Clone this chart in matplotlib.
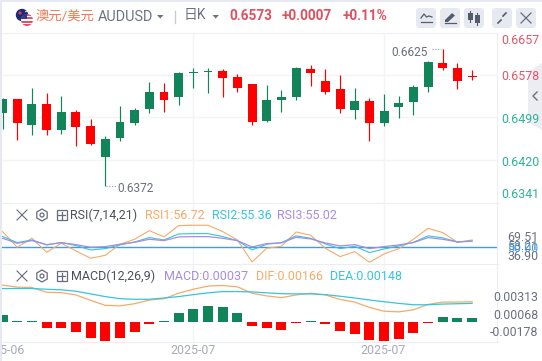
import matplotlib
matplotlib.use("Agg")
import numpy as np
import matplotlib.pyplot as plt
from matplotlib.patches import Circle, FancyBboxPatch, Polygon, Rectangle, RegularPolygon

W, H = 542, 361
FONT = ['Roboto', 'Noto Sans CJK SC', 'DejaVu Sans']
plt.rcParams['font.family'] = FONT

GREEN = "#12845a"
RED = "#ff0000"
GRID = "#f3f4f7"
ORANGE = "#f7aa68"
CYAN = "#35c5dc"
PURPLE = "#a78ce4"
BLUE = "#3d9de8"
GRAY = "#6b7080"
LABEL_RED = "#e2566a"
LABEL_GREEN = "#2db39a"

# daily candles, red = close above open
opens = [.65334, .64887, .6524, .64757, .65092, .64813, .64497, .6459, .64906, .65129,
         .65464, .65315, .65817, .65836, .65854, .65724, .65538, .64906, .65315, .65365,
         .6591, .65817, .65464, .65148, .65296, .64887, .6511, .65259, .65557, .66022,
         .6591, .65668, .65743]
highs = [.65352, .65334, .65538, .65445, .6539, .65129, .64962, .64645, .65203, .65166,
         .6565, .65631, .65836, .6591, .6591, .65892, .65799, .65613, .65594, .65501,
         .65929, .65966, .65892, .6578, .65538, .65352, .65427, .6539, .65594, .6604,
         .66254, .66003, .65873]
lows = [.64776, .64571, .64664, .64664, .64683, .64459, .64478, .63715, .64552, .6485,
        .65073, .65092, .65222, .65538, .65445, .65371, .65464, .6485, .64906, .65092,
        .65315, .65575, .65427, .65073, .64962, .64552, .64831, .6498, .65036, .65464,
        .65873, .6552, .65687]
closes = [.65079, .65334, .6485, .6524, .64757, .65092, .64831, .64255, .64608, .64887,
          .65153, .65464, .65371, .65817, .65836, .65854, .65743, .65613, .64924, .65321,
          .65371, .65892, .65668, .6552, .65129, .65296, .64887, .65185, .65278, .65557,
          .66003, .6591, .65761]

rsi1 = [80.6, 50.0, 67.6, 40.3, 57.8, 42.9, 28.6, 34.4, 55.9, 65.6, 82.5, 70.2, 92.3, 92.9, 92.9, 80.6, 64.3,
        21.4, 48.0, 52.0, 79.9, 73.4, 48.0, 31.8, 41.6, 20.8, 37.0, 47.4, 65.6, 87.0, 78.6, 59.8, 64.3]
rsi2 = [71.0, 59.1, 64.3, 54.6, 59.1, 53.3, 44.8, 47.4, 54.6, 60.4, 68.9, 64.3, 76.0, 76.6, 76.6, 71.0, 63.0,
        44.8, 55.9, 59.1, 72.3, 67.6, 56.5, 47.4, 52.0, 39.6, 46.8, 52.6, 59.8, 72.3, 68.4, 60.4, 62.4]
rsi3 = [67.6, 57.8, 63.0, 55.2, 59.1, 55.2, 50.0, 51.3, 55.9, 59.8, 65.6, 63.0, 70.2, 70.8, 70.8, 67.6, 63.0,
        50.7, 57.2, 58.5, 69.5, 66.3, 58.5, 52.6, 55.2, 47.4, 51.3, 54.6, 59.1, 68.9, 65.6, 60.4, 61.7]

dif = [.00313, .00296, .00293, .00252, .00249, .00229, .00183, .0014, .00136, .00154, .00186, .00197, .00244,
       .00278, .00305, .0031, .00299, .00244, .00221, .00206, .00229, .00244, .00229, .00191, .00168, .00122,
       .0009, .00084, .00102, .00148, .00168, .00168, .00171]
dea = [.00284, .00284, .00284, .00278, .00273, .00261, .00238, .00215, .00197, .00192, .00192, .00203, .00215,
       .00232, .00247, .00258, .00258, .00255, .00247, .00240, .00238, .00238, .00232, .00218, .00203, .00186,
       .00171, .00157, .00145, .00145, .00151, .00154, .00157]
macd = [.00061, .00002, .00006, -.00052, -.00052, -.00087, -.00139, -.00165, -.00139, -.00087, -.00017, .00002,
        .00078, .00113, .00131, .00122, .00078, -.00035, -.00052, -.0007, -.00009, .00006, -.00017, -.00078,
        -.00104, -.00157, -.00165, -.00148, -.00096, -.00009, .00044, .00035, .00035]

x = np.arange(len(closes))
XLIM = (-0.041, 33.73)
UP_DOWN = [RED if c >= o else GREEN for o, c in zip(opens, closes)]

fig = plt.figure(figsize=(W / 100, H / 100), dpi=100, facecolor="white")


def pane(top, bottom):
    ax = fig.add_axes([2 / W, 1 - bottom / H, 495.5 / W, (bottom - top) / H])
    ax.set_xlim(*XLIM)
    ax.set_xticks([13, 26])
    ax.tick_params(length=0, labelbottom=False, labelleft=False)
    ax.grid(axis="x", color=GRID, lw=1)
    ax.set_axisbelow(True)
    for s in ax.spines.values():
        s.set_visible(False)
    ax.spines["right"].set_visible(True)
    ax.spines["right"].set_color("#eceef3")
    ax.spines["bottom"].set_visible(True)
    ax.spines["bottom"].set_color("#eceef3")
    return ax


# candles
ax1 = pane(33, 203)
ax1.set_ylim(0.63399, 0.6656)
ax1.set_yticks([0.6578, 0.6499, 0.6420])
ax1.grid(axis="y", color=GRID, lw=1)
ax1.vlines(x, lows, highs, colors=UP_DOWN, lw=0.85)
bot = [min(o, c) for o, c in zip(opens, closes)]
hgt = [max(abs(c - o), 0.00012) for o, c in zip(opens, closes)]
ax1.bar(x, hgt, bottom=bot, width=0.61, color=UP_DOWN)

# rsi
ax2 = pane(204, 264)
ax2.set_ylim(17.4, 134.4)
ax2.set_yticks([])
ax2.axhline(50, color=BLUE, lw=1.0)
ax2.plot(x, rsi1, color=ORANGE, lw=0.8)
ax2.plot(x, rsi2, color=CYAN, lw=0.8)
ax2.plot(x, rsi3, color=PURPLE, lw=0.9)

# macd
ax3 = pane(264.5, 342)
ax3.set_ylim(-0.00174, 0.0049)
ax3.set_yticks([])
ax3.bar(x, macd, width=0.68, color=[GREEN if m > 0 else RED for m in macd])
ax3.plot(x, dif, color=ORANGE, lw=0.9)
ax3.plot(x, dea, color=CYAN, lw=0.9)

# everything around the panes, in pixel coordinates
ov = fig.add_axes([0, 0, 1, 1], zorder=5)
ov.set_xlim(0, W)
ov.set_ylim(H, 0)
ov.axis("off")
ov.patch.set_alpha(0)


def label(px, py, s, color=GRAY, size=8.9, ha="left", **kw):
    ov.text(px, py, s, color=color, fontsize=size, ha=ha, va="center", **kw)


ov.add_patch(Rectangle((0, 0), W, 2.3, color="#e6e9f2", lw=0))
ov.plot([2, 497], [33, 33], color="#f1f2f6", lw=1)

# flags
au = Circle((22, 15), 6.2, color="#1c2a78", lw=0)
ov.add_patch(au)
ov.add_patch(Circle((20, 13), 1.6, color="#d8404f", lw=0))
ov.add_patch(Circle((26, 11.5), 0.8, color="white", lw=0))
us_clip = Circle((27, 20), 6, transform=ov.transData)
for i, yy in enumerate(np.arange(14, 27, 1.7)):
    r = ov.add_patch(Rectangle((20, yy), 14, 1.7, color="#e8505f" if i % 2 == 0 else "white", lw=0))
    r.set_clip_path(us_clip)
r = ov.add_patch(Rectangle((20, 14), 7, 5, color="#2b3a8c", lw=0))
r.set_clip_path(us_clip)

# header
label(36, 16, "澳元/美元", color="#f5774f", size=9.6)
label(98, 17, "AUDUSD", color="#6b7280", size=10.4)
ov.add_patch(Polygon([[157, 15], [163.5, 15], [160.2, 18.5]], color="#6b7280", lw=0))
ov.plot([174.5, 174.5], [11, 23], color="#c9ccd6", lw=1)
label(184, 15.5, "日K", color="#6b7280", size=10)
ov.add_patch(Polygon([[212.5, 15], [219, 15], [215.7, 18.5]], color="#6b7280", lw=0))
label(229, 15.5, "0.6573", color="#e0505f", size=9.8, fontweight="bold")
label(282, 15.5, "+0.0007", color="#e0505f", size=9.8, fontweight="bold")
label(343, 15.5, "+0.11%", color="#e0505f", size=9.8, fontweight="bold")

# header buttons
for bx in [416, 440, 464, 492, 516]:
    ov.add_patch(FancyBboxPatch((bx + 2, 10), 16, 16, boxstyle="round,pad=2,rounding_size=3",
                                color="#e7e9f0", lw=0))
ov.plot([421, 424, 426.5, 429, 432], [18, 14, 17, 16, 17], color="#555b6b", lw=0.9)
ov.plot([421, 432], [21.5, 21.5], color="#555b6b", lw=0.9)
ov.add_patch(Polygon([[445, 20], [452, 13], [455, 15.5], [448, 22], [445, 22]], color="#555b6b", lw=0))
ov.plot([445, 456], [23, 23], color="#555b6b", lw=0.9)
for cx, t, b in [(470, 13, 20), (477, 15, 23)]:
    ov.plot([cx, cx], [t - 2, b + 2], color="#555b6b", lw=0.8)
    ov.add_patch(Rectangle((cx - 2.5, t), 5, b - t, color="#555b6b", lw=0))
ov.plot([498, 501], [23, 20], color="#555b6b", lw=1.2)
ov.plot([506, 503], [13, 16], color="#555b6b", lw=1.2)
ov.plot([521, 531], [13, 23], color="#666c7c", lw=0.9)
ov.plot([521, 531], [23, 13], color="#666c7c", lw=0.9)

# price axis
label(501, 41, "0.6657", color=LABEL_RED)
label(501, 76.5, "0.6578", color=LABEL_RED)
label(501, 119.5, "0.6499", color=LABEL_GREEN)
label(501, 162.5, "0.6420", color=LABEL_GREEN)
label(501, 194.5, "0.6341", color=LABEL_GREEN)

# hi / lo notes
label(391, 52, "0.6625", color=GRAY, size=8.6)
ov.plot([432, 441], [48.5, 48.5], color="#9a9eaa", lw=0.8, ls=(0, (1, 1.5)))
ov.plot([106, 116], [186, 186], color="#9a9eaa", lw=0.8, ls=(0, (1, 1.5)))
label(117, 189, "0.6372", color=GRAY, size=8.6)

# collapse tab
ov.add_patch(Polygon([[542, 63], [528, 72], [528, 122], [542, 130]], color="#ecedf3", lw=0))
ov.plot([537, 533, 537], [92, 96, 100], color="#6b7080", lw=1)


def pane_tools(py):
    ov.plot([17, 27], [py - 5, py + 5], color="#666c7c", lw=0.8)
    ov.plot([17, 27], [py + 5, py - 5], color="#666c7c", lw=0.8)
    ov.add_patch(RegularPolygon((42, py), 6, radius=6, fill=False, ec="#666c7c", lw=0.9))
    ov.add_patch(Circle((42, py), 2, fill=False, ec="#666c7c", lw=0.9))
    ov.add_patch(Rectangle((56.5, py - 5), 10, 10, fill=False, ec="#666c7c", lw=0.9))
    ov.plot([61.5, 61.5], [py - 3.5, py + 3.5], color="#666c7c", lw=0.9)
    ov.plot([58, 65], [py, py], color="#666c7c", lw=0.9)


# rsi header and axis
pane_tools(215)
label(70, 215.5, "RSI(7,14,21)", color="#4b5060", size=9)
label(145, 215.5, "RSI1:56.72", color=ORANGE, size=9)
label(212, 215.5, "RSI2:55.36", color=CYAN, size=9)
label(277, 215.5, "RSI3:55.02", color=PURPLE, size=9)
label(507, 237.5, "69.51", size=8.9)
label(507, 246, "53.21", size=8.9)
label(507, 256, "36.90", size=8.9)
label(507, 248, "50.00", color=BLUE, size=8.9)

# macd header and axis
pane_tools(276)
label(71, 276, "MACD(12,26,9)", color="#4b5060", size=9)
label(164, 276, "MACD:0.00037", color=PURPLE, size=9)
label(256, 276, "DIF:0.00166", color=ORANGE, size=9)
label(330, 276, "DEA:0.00148", color=CYAN, size=9)
label(538, 297.5, "0.00313", ha="right")
label(538, 315.5, "0.00068", ha="right")
label(538, 332.5, "-0.00178", ha="right")

# date axis
DATE_GRAY = "#a8abb8"
label(2, 350, "2025-06", color=DATE_GRAY, ha="center")
label(193, 350, "2025-07", color=DATE_GRAY, ha="center")
label(383, 350, "2025-07", color=DATE_GRAY, ha="center")
# left page margin sits over the clipped date label
ov.add_patch(Rectangle((0, 0), 2, H, color="#e6e9f2", lw=0, zorder=10))

fig.savefig("out.png", dpi=100)
